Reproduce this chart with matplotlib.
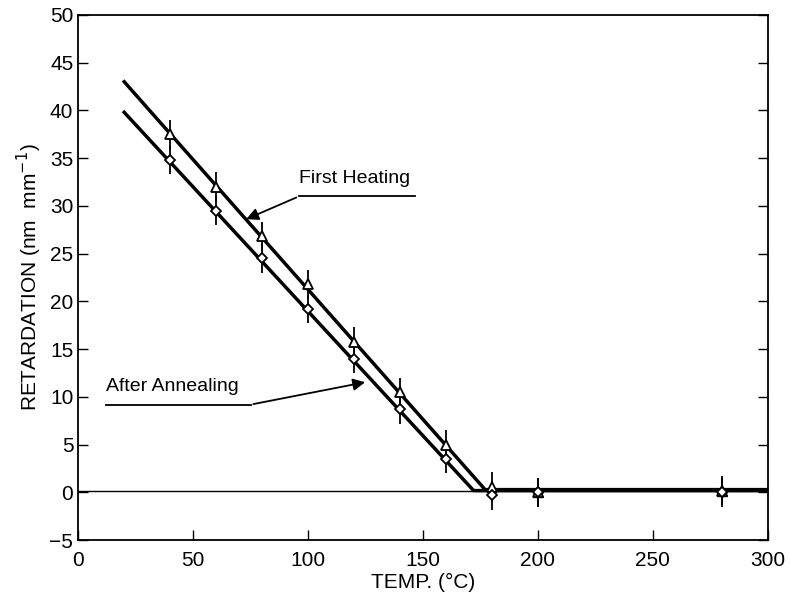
import matplotlib.pyplot as plt
import numpy as np

# measured points
temp = [40, 60, 80, 100, 120, 140, 160, 180, 200, 280]
first_heating = [37.5, 32.0, 26.8, 21.8, 15.8, 10.5, 5.0, 0.6, 0.0, 0.2]
after_annealing = [34.8, 29.5, 24.5, 19.2, 14.0, 8.7, 3.5, -0.3, 0.0, 0.0]
err = 1.5

# fitted lines (temperature, retardation)
fit_heat_x = [20, 177, 300]
fit_heat_y = [43.0, 0.3, 0.3]
fit_anneal_x = [20, 172, 300]
fit_anneal_y = [39.8, 0.2, 0.2]

plt.rcParams['font.family'] = ['Liberation Sans', 'DejaVu Sans']

fig = plt.figure(figsize=(7.9, 5.95), dpi=100)
ax = fig.add_axes([0.099, 0.092, 0.873, 0.883])

ax.axhline(0.2, color='black', lw=1.0)
ax.plot(fit_heat_x, fit_heat_y, color='black', lw=2.5)
ax.plot(fit_anneal_x, fit_anneal_y, color='black', lw=2.5)

ax.errorbar(temp, first_heating, yerr=err, fmt='^', ms=7, mfc='white',
            mec='black', mew=1.3, ecolor='black', elinewidth=1.3, capsize=0)
ax.errorbar(temp, after_annealing, yerr=err, fmt='D', ms=5.5, mfc='white',
            mec='black', mew=1.3, ecolor='black', elinewidth=1.3, capsize=0)
# high temperature points are drawn solid
ax.plot(temp[-2:], first_heating[-2:], '^', ms=7, color='black')
ax.plot(temp[-2:], after_annealing[-2:], 'D', ms=5.5, color='black')

# labels with underline leading into an arrow
ax.text(96, 32.0, 'First Heating', fontsize=14, ha='left', va='bottom')
ax.plot([96, 146.5], [31.0, 31.0], color='black', lw=1.3)
ax.annotate('', xy=(72, 28.5), xytext=(96, 31.0),
            arrowprops=dict(arrowstyle='-|>', color='black', lw=1.3,
                            mutation_scale=18))
ax.text(12, 10.2, 'After Annealing', fontsize=14, ha='left', va='bottom')
ax.plot([12, 75], [9.2, 9.2], color='black', lw=1.3)
ax.annotate('', xy=(126, 11.6), xytext=(75, 9.2),
            arrowprops=dict(arrowstyle='-|>', color='black', lw=1.3,
                            mutation_scale=18))

ax.set_xlim(0, 300)
ax.set_ylim(-5, 50)
ax.set_xticks(np.arange(0, 301, 50))
ax.set_yticks(np.arange(-5, 51, 5))
ax.tick_params(direction='in', length=7, width=1.0, labelsize=15,
               right=True, top=False)
ax.tick_params(axis='x', pad=8)
for s in ax.spines.values():
    s.set_linewidth(1.3)

ax.set_xlabel('TEMP. (°C)', fontsize=15, labelpad=2)
ax.set_ylabel('RETARDATION (nm  mm$^{-1}$)', fontsize=15)

fig.savefig('out.png', dpi=100)
